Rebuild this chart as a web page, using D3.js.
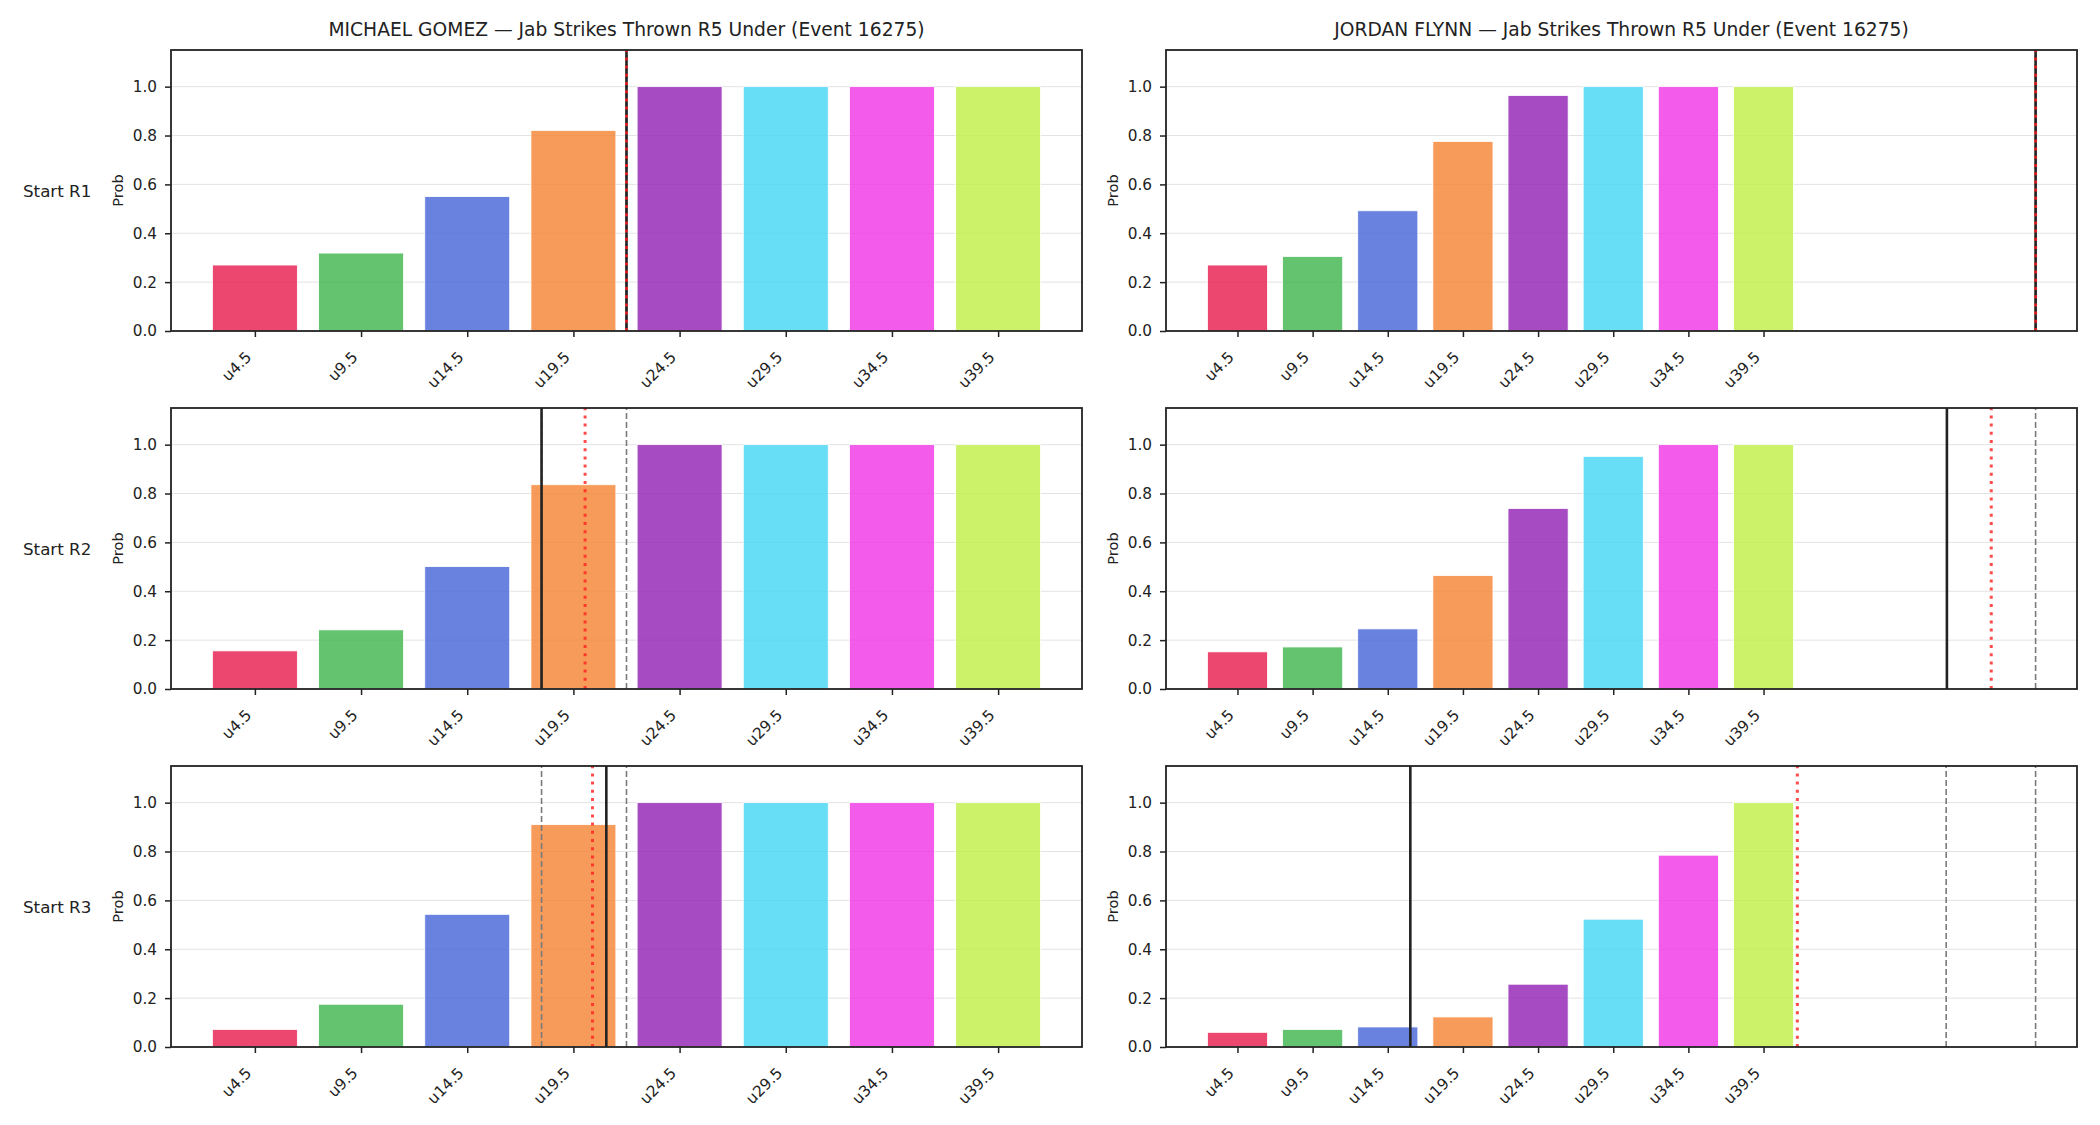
<!DOCTYPE html>
<meta charset="utf-8">

<head>
    <style>
        body {
            margin: 0;
            background: #fff;
        }

        text {
            font-family: "DejaVu Sans", sans-serif;
            fill: #222;
        }
    </style>
    <script src="https://d3js.org/d3.v7.min.js"></script>
</head>

<body>
    <script>
        const width = 2100
        const height = 1125

        const fighters = ["MICHAEL GOMEZ", "JORDAN FLYNN"]
        const titleSuffix = " — Jab Strikes Thrown R5 Under (Event 16275)"
        const rounds = ["Start R1", "Start R2", "Start R3"]
        const categories = ["u4.5", "u9.5", "u14.5", "u19.5", "u24.5", "u29.5", "u34.5", "u39.5"]
        const colors = ["#e6194b", "#3cb44b", "#4363d8", "#f58231", "#911eb4", "#42d4f4", "#f032e6", "#bfef45"]
        const yTicks = [0, 0.2, 0.4, 0.6, 0.8, 1.0]

        // under probabilities per round start
        const gomezR1 = [0.270, 0.319, 0.550, 0.821, 1.0, 1.0, 1.0, 1.0]
        const gomezR2 = [0.156, 0.242, 0.501, 0.836, 1.0, 1.0, 1.0, 1.0]
        const gomezR3 = [0.072, 0.175, 0.543, 0.910, 1.0, 1.0, 1.0, 1.0]
        const flynnR1 = [0.270, 0.305, 0.492, 0.776, 0.964, 1.0, 1.0, 1.0]
        const flynnR2 = [0.152, 0.172, 0.246, 0.464, 0.739, 0.952, 1.0, 1.0]
        const flynnR3 = [0.060, 0.072, 0.082, 0.123, 0.257, 0.523, 0.785, 1.0]

        // reference lines, in category-axis units
        const gomezSolid = [3.50, 2.70, 3.31]
        const gomezDotted = [3.50, 3.11, 3.18]
        const gomezDashed = [[3.50, 3.50], [2.70, 3.50], [2.70, 3.50]]
        const flynnSolid = [10.62, 9.44, 2.30]
        const flynnDotted = [10.62, 10.03, 7.45]
        const flynnDashed = [[10.62, 10.62], [9.44, 10.62], [9.43, 10.62]]

        const probs = [[gomezR1, gomezR2, gomezR3], [flynnR1, flynnR2, flynnR3]]
        const solids = [gomezSolid, flynnSolid]
        const dotteds = [gomezDotted, flynnDotted]
        const dasheds = [gomezDashed, flynnDashed]

        const colLeft = [171, 1166]
        const rowTop = [50, 408, 766]
        const panelW = 911
        const panelH = 281

        const svg = d3.select("body").append("svg")
            .attr("width", width)
            .attr("height", height)

        fighters.forEach((name, c) => {
            svg.append("text")
                .attr("x", colLeft[c] + panelW / 2)
                .attr("y", 36)
                .attr("text-anchor", "middle")
                .style("font-size", "18.7px")
                .text(name + titleSuffix)
        })

        rounds.forEach((r, ri) => {
            svg.append("text")
                .attr("x", 23)
                .attr("y", rowTop[ri] + panelH / 2 + 6)
                .style("font-size", "16.7px")
                .text(r)
        })

        for (let c = 0; c < 2; c++) {
            for (let ri = 0; ri < 3; ri++) {
                const data = probs[c][ri]
                const dashed = dasheds[c][ri]
                const solid = solids[c][ri]
                const dotted = dotteds[c][ri]

                const maxX = d3.max([data.length - 1 + 0.4, solid, dotted, ...dashed])
                const minX = -0.4
                const pad = (maxX - minX) * 0.05

                const xScale = d3.scaleLinear()
                    .domain([minX - pad, maxX + pad])
                    .range([0, panelW])

                const yScale = d3.scaleLinear()
                    .domain([0, 1.15])
                    .range([panelH, 0])

                const g = svg.append("g")
                    .attr("transform", `translate(${colLeft[c]},${rowTop[ri]})`)

                g.selectAll(".grid")
                    .data(yTicks.slice(1))
                    .enter()
                    .append("line")
                    .attr("x1", 0)
                    .attr("x2", panelW)
                    .attr("y1", d => yScale(d))
                    .attr("y2", d => yScale(d))
                    .attr("stroke", "#e3e3e3")
                    .attr("stroke-width", 1)

                g.selectAll("rect.bar")
                    .data(data)
                    .enter()
                    .append("rect")
                    .attr("class", "bar")
                    .attr("x", (d, i) => xScale(i - 0.4))
                    .attr("width", xScale(0.8) - xScale(0))
                    .attr("y", d => yScale(d))
                    .attr("height", d => panelH - yScale(d))
                    .attr("fill", (d, i) => colors[i])
                    .attr("fill-opacity", 0.8)
                    .attr("stroke", "#fff")
                    .attr("stroke-width", 0.8)

                g.selectAll(".dash")
                    .data(dashed)
                    .enter()
                    .append("line")
                    .attr("x1", d => xScale(d))
                    .attr("x2", d => xScale(d))
                    .attr("y1", panelH)
                    .attr("y2", 0)
                    .attr("stroke", "#7a7a7a")
                    .attr("stroke-width", 1.6)
                    .attr("stroke-dasharray", "6,3")

                g.append("line")
                    .attr("x1", xScale(solid))
                    .attr("x2", xScale(solid))
                    .attr("y1", panelH)
                    .attr("y2", 0)
                    .attr("stroke", "#222")
                    .attr("stroke-width", 2.6)

                g.append("line")
                    .attr("x1", xScale(dotted))
                    .attr("x2", xScale(dotted))
                    .attr("y1", panelH)
                    .attr("y2", 0)
                    .attr("stroke", "#ff2020")
                    .attr("stroke-opacity", 0.8)
                    .attr("stroke-width", 3)
                    .attr("stroke-dasharray", "3,5.2")

                const yAxis = g.append("g")
                    .call(d3.axisLeft(yScale)
                        .tickValues(yTicks)
                        .tickFormat(d3.format(".1f"))
                        .tickSize(6)
                        .tickPadding(8))
                yAxis.select(".domain").remove()
                yAxis.selectAll("line").attr("stroke", "#222").attr("stroke-width", 1.5)
                yAxis.selectAll("text")
                    .attr("fill", "#222")
                    .style("font-size", "15.3px")
                    .style("font-family", "DejaVu Sans")

                const xAxis = g.append("g")
                    .attr("transform", `translate(0,${panelH})`)
                    .call(d3.axisBottom(xScale)
                        .tickValues(d3.range(data.length))
                        .tickFormat(i => categories[i])
                        .tickSize(6))
                xAxis.select(".domain").remove()
                xAxis.selectAll("line").attr("stroke", "#222").attr("stroke-width", 1.5)
                xAxis.selectAll("text")
                    .attr("x", 0)
                    .attr("y", 0)
                    .attr("dy", 0)
                    .attr("text-anchor", "end")
                    .attr("transform", "translate(-3,27) rotate(-45)")
                    .attr("fill", "#222")
                    .style("font-size", "15.3px")
                    .style("font-family", "DejaVu Sans")

                g.append("text")
                    .attr("transform", `translate(-48,${panelH / 2}) rotate(-90)`)
                    .attr("text-anchor", "middle")
                    .style("font-size", "14.6px")
                    .text("Prob")

                g.append("rect")
                    .attr("width", panelW)
                    .attr("height", panelH)
                    .attr("fill", "none")
                    .attr("stroke", "#222")
                    .attr("stroke-width", 1.8)
            }
        }
    </script>
</body>
